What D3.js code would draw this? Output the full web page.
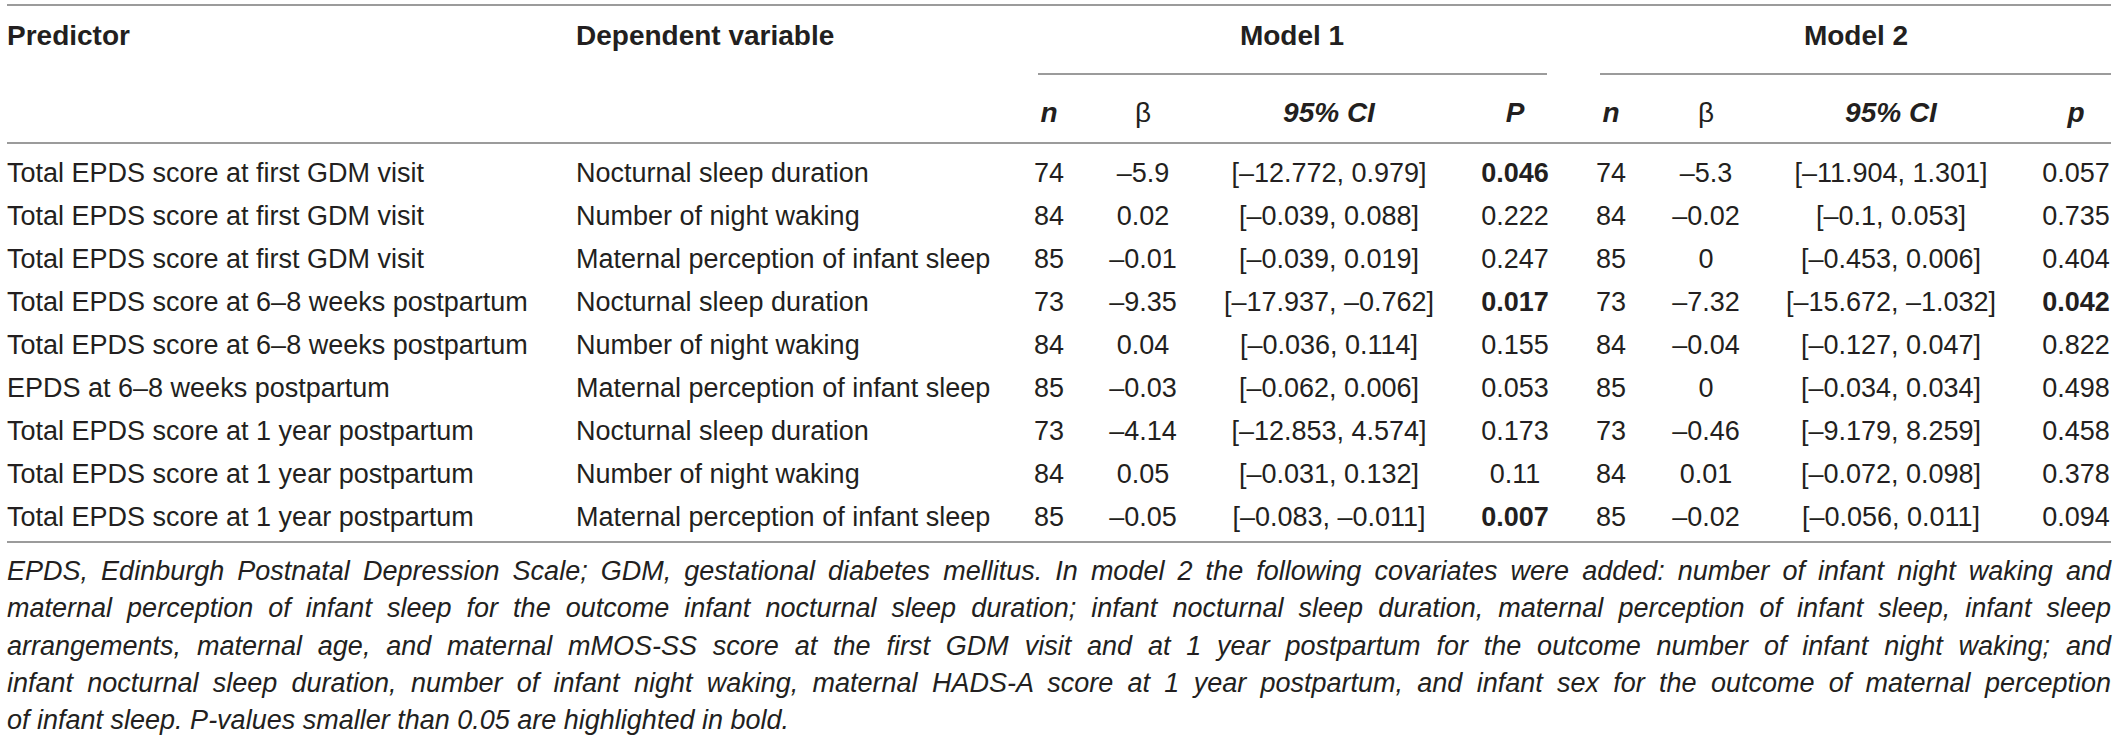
<!DOCTYPE html>
<html>
<head>
<meta charset="utf-8">
<script src="https://cdn.jsdelivr.net/npm/d3@7"></script>
<style>
  html, body { margin: 0; padding: 0; background: #fff; }
  svg text { font-family: "Liberation Sans", Arial, Helvetica, sans-serif; fill: #231f20; }
  .hdr { font-weight: bold; font-size: 28px; }
  .cell { font-size: 27px; }
  .note { font-size: 27px; font-style: italic; }
  .rule { stroke: #7a7a7a; stroke-width: 1.6; }
</style>
</head>
<body>
<svg id="tbl" width="2118" height="742"></svg>
<script>
// ---- data ----
var predictors = [
  "Total EPDS score at first GDM visit",
  "Total EPDS score at first GDM visit",
  "Total EPDS score at first GDM visit",
  "Total EPDS score at 6–8 weeks postpartum",
  "Total EPDS score at 6–8 weeks postpartum",
  "EPDS at 6–8 weeks postpartum",
  "Total EPDS score at 1 year postpartum",
  "Total EPDS score at 1 year postpartum",
  "Total EPDS score at 1 year postpartum"
];
var dependents = [
  "Nocturnal sleep duration",
  "Number of night waking",
  "Maternal perception of infant sleep",
  "Nocturnal sleep duration",
  "Number of night waking",
  "Maternal perception of infant sleep",
  "Nocturnal sleep duration",
  "Number of night waking",
  "Maternal perception of infant sleep"
];
var m1N    = [74, 84, 85, 73, 84, 85, 73, 84, 85];
var m1Beta = [-5.9, 0.02, -0.01, -9.35, 0.04, -0.03, -4.14, 0.05, -0.05];
var m1CI   = [[-12.772, 0.979], [-0.039, 0.088], [-0.039, 0.019], [-17.937, -0.762], [-0.036, 0.114],
              [-0.062, 0.006], [-12.853, 4.574], [-0.031, 0.132], [-0.083, -0.011]];
var m1P    = [0.046, 0.222, 0.247, 0.017, 0.155, 0.053, 0.173, 0.11, 0.007];
var m2N    = [74, 84, 85, 73, 84, 85, 73, 84, 85];
var m2Beta = [-5.3, -0.02, 0, -7.32, -0.04, 0, -0.46, 0.01, -0.02];
var m2CI   = [[-11.904, 1.301], [-0.1, 0.053], [-0.453, 0.006], [-15.672, -1.032], [-0.127, 0.047],
              [-0.034, 0.034], [-9.179, 8.259], [-0.072, 0.098], [-0.056, 0.011]];
var m2P    = [0.057, 0.735, 0.404, 0.042, 0.822, 0.498, 0.458, 0.378, 0.094];

var noteLines = [
  "EPDS, Edinburgh Postnatal Depression Scale; GDM, gestational diabetes mellitus. In model 2 the following covariates were added: number of infant night waking and",
  "maternal perception of infant sleep for the outcome infant nocturnal sleep duration; infant nocturnal sleep duration, maternal perception of infant sleep, infant sleep",
  "arrangements, maternal age, and maternal mMOS-SS score at the first GDM visit and at 1 year postpartum for the outcome number of infant night waking; and",
  "infant nocturnal sleep duration, number of infant night waking, maternal HADS-A score at 1 year postpartum, and infant sex for the outcome of maternal perception",
  "of infant sleep. P-values smaller than 0.05 are highlighted in bold."
];

// ---- layout ----
var svg = d3.select("#tbl"),
    left = 7, right = 2111;

var colKeys = ["n1", "b1", "ci1", "p1", "n2", "b2", "ci2", "p2"];
var colX = d3.scaleOrdinal()
    .domain(colKeys)
    .range([1049, 1143, 1329, 1515, 1611, 1706, 1891, 2076]);

var rowY = d3.scaleLinear()
    .domain([0, predictors.length - 1])
    .range([182, 526]);

var noteY = d3.scaleLinear()
    .domain([0, noteLines.length - 1])
    .range([580, 729]);

var fmt = function(v) { return String(v).replace("-", "–"); };
var fmtCI = function(c) { return "[" + fmt(c[0]) + ", " + fmt(c[1]) + "]"; };

function rule(x1, x2, y) {
  svg.append("line").attr("class", "rule")
      .attr("x1", x1).attr("x2", x2).attr("y1", y).attr("y2", y);
}

// rules
rule(left, right, 5);
rule(1038, 1547, 74);
rule(1600, right, 74);
rule(left, right, 143);
rule(left, right, 542);

// header row 1
var h1 = [
  {t: "Predictor", x: left, a: "start"},
  {t: "Dependent variable", x: 576, a: "start"},
  {t: "Model 1", x: 1292, a: "middle"},
  {t: "Model 2", x: 1856, a: "middle"}
];
svg.selectAll("text.h1").data(h1).enter().append("text")
    .attr("class", "hdr h1")
    .attr("x", function(d) { return d.x; })
    .attr("y", 45)
    .attr("text-anchor", function(d) { return d.a; })
    .text(function(d) { return d.t; });

// header row 2
var h2 = [
  {k: "n1", t: "n", it: true}, {k: "b1", t: "β", it: false},
  {k: "ci1", t: "95% CI", it: true}, {k: "p1", t: "P", it: true},
  {k: "n2", t: "n", it: true}, {k: "b2", t: "β", it: false},
  {k: "ci2", t: "95% CI", it: true}, {k: "p2", t: "p", it: true}
];
svg.selectAll("text.h2").data(h2).enter().append("text")
    .attr("class", "hdr h2")
    .attr("x", function(d) { return colX(d.k); })
    .attr("y", 122)
    .attr("text-anchor", "middle")
    .style("font-style", function(d) { return d.it ? "italic" : "normal"; })
    .style("font-weight", function(d) { return d.it ? "bold" : "normal"; })
    .text(function(d) { return d.t; });

// body rows
var rows = predictors.map(function(p, i) {
  return {
    i: i, pred: p, dep: dependents[i],
    cells: [
      {k: "n1", t: String(m1N[i])}, {k: "b1", t: fmt(m1Beta[i])},
      {k: "ci1", t: fmtCI(m1CI[i])}, {k: "p1", t: fmt(m1P[i]), bold: m1P[i] < 0.05},
      {k: "n2", t: String(m2N[i])}, {k: "b2", t: fmt(m2Beta[i])},
      {k: "ci2", t: fmtCI(m2CI[i])}, {k: "p2", t: fmt(m2P[i]), bold: m2P[i] < 0.05}
    ]
  };
});

var g = svg.selectAll("g.row").data(rows).enter().append("g")
    .attr("class", "row")
    .attr("transform", function(d) { return "translate(0," + rowY(d.i) + ")"; });

g.append("text").attr("class", "cell").attr("x", left).text(function(d) { return d.pred; });
g.append("text").attr("class", "cell").attr("x", 576).text(function(d) { return d.dep; });

g.selectAll("text.val").data(function(d) { return d.cells; }).enter().append("text")
    .attr("class", "cell val")
    .attr("x", function(d) { return colX(d.k); })
    .attr("text-anchor", "middle")
    .style("font-weight", function(d) { return d.bold ? "bold" : "normal"; })
    .text(function(d) { return d.t; });

// footnote, justified except last line
svg.selectAll("text.note").data(noteLines).enter().append("text")
    .attr("class", "note")
    .attr("x", left)
    .attr("y", function(d, i) { return noteY(i); })
    .text(function(d) { return d; })
    .each(function(d, i) {
      if (i === noteLines.length - 1) return;
      var len = this.getComputedTextLength(),
          gaps = d.split(" ").length - 1;
      d3.select(this).attr("word-spacing", (right - left - len) / gaps);
    });
</script>
</body>
</html>
